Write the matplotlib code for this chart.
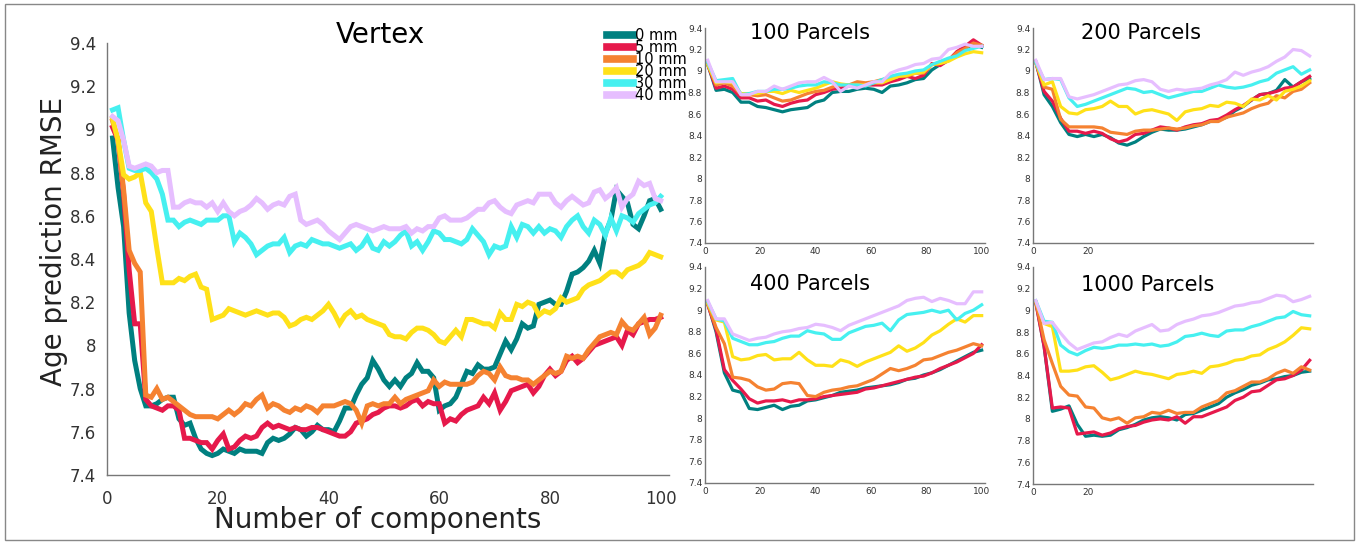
import numpy as np
import matplotlib
matplotlib.use('Agg')
import matplotlib.pyplot as plt
from matplotlib.patches import Rectangle

LABELS = ['0 mm', '5 mm', '10 mm', '20 mm', '30 mm', '40 mm']
COLORS = ['#008080', '#e6194b', '#f58231', '#ffe119', '#46f0f0', '#e6beff']

COMPONENTS = np.arange(1, 101)
SMALL_COMPONENTS = np.arange(1, 101, 3)
YTICKS = [7.4, 7.6, 7.8, 8.0, 8.2, 8.4, 8.6, 8.8, 9.0, 9.2, 9.4]

# vertex-wise smoothing, one list per kernel (0, 5, 10, 20, 30, 40 mm)
VERTEX = [
    [8.96, 8.73, 8.55, 8.15, 7.93, 7.80, 7.72, 7.72, 7.73, 7.75, 7.76, 7.76, 7.66, 7.63, 7.64, 7.57, 7.52, 7.50, 7.49, 7.50,
     7.52, 7.51, 7.50, 7.52, 7.51, 7.51, 7.51, 7.50, 7.55, 7.57, 7.56, 7.57, 7.59, 7.62, 7.61, 7.58, 7.60, 7.63, 7.61, 7.61,
     7.60, 7.65, 7.71, 7.71, 7.77, 7.82, 7.85, 7.93, 7.89, 7.84, 7.81, 7.84, 7.81, 7.85, 7.87, 7.92, 7.88, 7.88, 7.85, 7.70,
     7.72, 7.73, 7.76, 7.82, 7.88, 7.87, 7.91, 7.89, 7.89, 7.90, 7.96, 8.02, 7.98, 8.03, 8.10, 8.08, 8.09, 8.19, 8.20, 8.21,
     8.19, 8.19, 8.25, 8.33, 8.34, 8.36, 8.39, 8.44, 8.38, 8.52, 8.58, 8.72, 8.69, 8.66, 8.56, 8.54, 8.60, 8.67, 8.68, 8.63],
    [9.01, 8.95, 8.70, 8.35, 8.10, 8.10, 7.75, 7.72, 7.71, 7.70, 7.72, 7.72, 7.70, 7.57, 7.57, 7.56, 7.55, 7.55, 7.52, 7.56,
     7.59, 7.52, 7.53, 7.56, 7.58, 7.57, 7.58, 7.62, 7.64, 7.62, 7.63, 7.62, 7.61, 7.62, 7.61, 7.61, 7.62, 7.62, 7.61, 7.60,
     7.59, 7.58, 7.58, 7.60, 7.64, 7.65, 7.66, 7.68, 7.69, 7.71, 7.72, 7.72, 7.71, 7.72, 7.74, 7.75, 7.72, 7.74, 7.73, 7.73,
     7.64, 7.66, 7.65, 7.68, 7.70, 7.71, 7.72, 7.76, 7.73, 7.78, 7.70, 7.74, 7.79, 7.80, 7.81, 7.82, 7.78, 7.81, 7.86, 7.89,
     7.86, 7.88, 7.93, 7.95, 7.92, 7.94, 7.97, 8.00, 8.01, 8.02, 8.03, 8.04, 8.00, 8.07, 8.05, 8.10, 8.11, 8.12, 8.12, 8.13],
    [9.04, 8.95, 8.72, 8.44, 8.38, 8.34, 7.77, 7.76, 7.80, 7.75, 7.76, 7.74, 7.72, 7.70, 7.68, 7.67, 7.67, 7.67, 7.67, 7.66,
     7.68, 7.70, 7.68, 7.70, 7.73, 7.72, 7.75, 7.77, 7.71, 7.73, 7.72, 7.70, 7.69, 7.71, 7.70, 7.72, 7.71, 7.69, 7.72, 7.72,
     7.72, 7.73, 7.74, 7.73, 7.70, 7.64, 7.72, 7.73, 7.72, 7.73, 7.73, 7.76, 7.73, 7.75, 7.76, 7.77, 7.78, 7.79, 7.84, 7.81,
     7.83, 7.82, 7.82, 7.82, 7.82, 7.83, 7.86, 7.88, 7.87, 7.84, 7.90, 7.86, 7.85, 7.85, 7.84, 7.84, 7.82, 7.84, 7.86, 7.88,
     7.87, 7.88, 7.95, 7.94, 7.95, 7.94, 7.98, 8.01, 8.04, 8.05, 8.06, 8.05, 8.11, 8.08, 8.07, 8.10, 8.13, 8.05, 8.08, 8.14],
    [9.05, 8.95, 8.79, 8.77, 8.78, 8.80, 8.66, 8.62, 8.45, 8.29, 8.29, 8.29, 8.31, 8.30, 8.32, 8.33, 8.27, 8.26, 8.12, 8.13,
     8.14, 8.17, 8.16, 8.15, 8.14, 8.15, 8.16, 8.15, 8.14, 8.15, 8.15, 8.13, 8.09, 8.10, 8.12, 8.13, 8.12, 8.14, 8.16, 8.19,
     8.15, 8.10, 8.14, 8.16, 8.13, 8.14, 8.12, 8.11, 8.10, 8.09, 8.05, 8.04, 8.04, 8.03, 8.06, 8.08, 8.08, 8.07, 8.05, 8.02,
     8.01, 8.04, 8.07, 8.04, 8.12, 8.12, 8.11, 8.10, 8.10, 8.08, 8.15, 8.12, 8.12, 8.19, 8.18, 8.20, 8.19, 8.14, 8.16, 8.15,
     8.17, 8.22, 8.20, 8.21, 8.22, 8.26, 8.28, 8.29, 8.30, 8.32, 8.34, 8.34, 8.32, 8.35, 8.36, 8.37, 8.39, 8.43, 8.42, 8.41],
    [9.09, 9.10, 8.95, 8.82, 8.81, 8.81, 8.82, 8.80, 8.77, 8.70, 8.58, 8.58, 8.55, 8.57, 8.58, 8.57, 8.56, 8.58, 8.58, 8.58,
     8.60, 8.60, 8.48, 8.52, 8.50, 8.47, 8.42, 8.44, 8.46, 8.47, 8.47, 8.50, 8.43, 8.46, 8.47, 8.46, 8.49, 8.48, 8.47, 8.47,
     8.46, 8.45, 8.46, 8.47, 8.44, 8.46, 8.50, 8.45, 8.44, 8.48, 8.46, 8.48, 8.51, 8.53, 8.46, 8.48, 8.44, 8.48, 8.53, 8.52,
     8.49, 8.49, 8.48, 8.47, 8.49, 8.54, 8.51, 8.48, 8.42, 8.46, 8.45, 8.46, 8.55, 8.50, 8.56, 8.55, 8.52, 8.55, 8.52, 8.54,
     8.53, 8.50, 8.55, 8.58, 8.60, 8.55, 8.52, 8.58, 8.56, 8.51, 8.59, 8.53, 8.60, 8.59, 8.57, 8.61, 8.63, 8.65, 8.66, 8.69],
    [9.06, 9.04, 8.95, 8.83, 8.82, 8.83, 8.84, 8.83, 8.80, 8.81, 8.81, 8.64, 8.64, 8.66, 8.67, 8.66, 8.66, 8.64, 8.66, 8.62,
     8.66, 8.62, 8.60, 8.62, 8.63, 8.65, 8.68, 8.66, 8.63, 8.65, 8.66, 8.65, 8.69, 8.70, 8.58, 8.56, 8.57, 8.58, 8.56, 8.53,
     8.51, 8.49, 8.52, 8.55, 8.56, 8.55, 8.54, 8.53, 8.54, 8.55, 8.54, 8.54, 8.54, 8.55, 8.52, 8.54, 8.53, 8.55, 8.55, 8.59,
     8.60, 8.58, 8.58, 8.58, 8.59, 8.61, 8.63, 8.63, 8.66, 8.67, 8.64, 8.62, 8.61, 8.65, 8.66, 8.67, 8.66, 8.70, 8.70, 8.70,
     8.66, 8.64, 8.67, 8.69, 8.67, 8.65, 8.66, 8.71, 8.72, 8.68, 8.70, 8.73, 8.64, 8.68, 8.70, 8.76, 8.74, 8.75, 8.68, 8.67],
]

# parcel-wise results, sampled every third component
PARCELS_100 = [
    [9.06, 8.82, 8.83, 8.80, 8.71, 8.71, 8.67, 8.66, 8.64, 8.62, 8.64, 8.65, 8.66, 8.71, 8.73, 8.80, 8.81,
     8.81, 8.83, 8.84, 8.83, 8.80, 8.86, 8.87, 8.89, 8.92, 8.93, 9.01, 9.06, 9.10, 9.16, 9.21, 9.25, 9.22],
    [9.06, 8.84, 8.86, 8.83, 8.75, 8.75, 8.72, 8.73, 8.69, 8.67, 8.70, 8.72, 8.73, 8.78, 8.80, 8.83, 8.84,
     8.86, 8.87, 8.87, 8.87, 8.87, 8.90, 8.92, 8.95, 8.93, 8.96, 9.07, 9.05, 9.10, 9.18, 9.23, 9.29, 9.24],
    [9.06, 8.87, 8.89, 8.86, 8.78, 8.78, 8.77, 8.78, 8.75, 8.72, 8.73, 8.76, 8.79, 8.81, 8.82, 8.85, 8.87,
     8.87, 8.90, 8.89, 8.90, 8.92, 8.93, 8.95, 8.95, 8.98, 8.98, 9.06, 9.07, 9.10, 9.17, 9.21, 9.26, 9.24],
    [9.06, 8.89, 8.90, 8.89, 8.79, 8.79, 8.79, 8.81, 8.81, 8.79, 8.82, 8.80, 8.82, 8.84, 8.87, 8.90, 8.88,
     8.87, 8.87, 8.87, 8.89, 8.89, 8.92, 8.95, 8.96, 8.98, 8.99, 9.06, 9.07, 9.09, 9.13, 9.16, 9.18, 9.17],
    [9.08, 8.91, 8.92, 8.93, 8.78, 8.79, 8.81, 8.81, 8.83, 8.83, 8.84, 8.86, 8.87, 8.87, 8.90, 8.89, 8.87,
     8.87, 8.87, 8.86, 8.89, 8.92, 8.95, 8.97, 8.98, 9.00, 9.01, 9.06, 9.09, 9.12, 9.14, 9.19, 9.21, 9.23],
    [9.10, 8.90, 8.90, 8.90, 8.78, 8.78, 8.81, 8.81, 8.86, 8.83, 8.86, 8.89, 8.90, 8.90, 8.94, 8.90, 8.81,
     8.86, 8.84, 8.87, 8.90, 8.90, 8.98, 9.01, 9.03, 9.06, 9.07, 9.11, 9.12, 9.20, 9.22, 9.25, 9.23, 9.23],
]
PARCELS_200 = [
    [9.09, 8.78, 8.67, 8.52, 8.41, 8.39, 8.41, 8.39, 8.41, 8.38, 8.33, 8.31, 8.34, 8.39, 8.43, 8.46, 8.45,
     8.45, 8.46, 8.48, 8.50, 8.53, 8.54, 8.57, 8.63, 8.67, 8.73, 8.78, 8.79, 8.82, 8.92, 8.85, 8.90, 8.93],
    [9.08, 8.81, 8.72, 8.56, 8.44, 8.44, 8.42, 8.44, 8.42, 8.37, 8.34, 8.36, 8.41, 8.42, 8.45, 8.48, 8.47,
     8.45, 8.48, 8.50, 8.51, 8.54, 8.55, 8.59, 8.64, 8.68, 8.73, 8.78, 8.79, 8.81, 8.84, 8.85, 8.90, 8.95],
    [9.08, 8.85, 8.83, 8.55, 8.48, 8.48, 8.48, 8.48, 8.47, 8.43, 8.42, 8.41, 8.44, 8.45, 8.45, 8.46, 8.47,
     8.46, 8.47, 8.49, 8.50, 8.53, 8.53, 8.57, 8.59, 8.61, 8.65, 8.68, 8.70, 8.77, 8.75, 8.81, 8.83, 8.89],
    [9.08, 8.87, 8.90, 8.67, 8.61, 8.60, 8.64, 8.65, 8.67, 8.72, 8.67, 8.67, 8.60, 8.63, 8.64, 8.62, 8.60,
     8.54, 8.62, 8.64, 8.65, 8.68, 8.67, 8.71, 8.70, 8.67, 8.74, 8.73, 8.77, 8.73, 8.81, 8.83, 8.86, 8.91],
    [9.08, 8.92, 8.93, 8.92, 8.75, 8.67, 8.69, 8.72, 8.75, 8.78, 8.81, 8.84, 8.83, 8.80, 8.81, 8.78, 8.75,
     8.77, 8.79, 8.81, 8.81, 8.84, 8.87, 8.85, 8.84, 8.85, 8.87, 8.90, 8.92, 8.98, 9.01, 9.04, 8.97, 9.01],
    [9.10, 8.92, 8.93, 8.93, 8.76, 8.74, 8.76, 8.78, 8.81, 8.84, 8.87, 8.88, 8.91, 8.92, 8.90, 8.83, 8.81,
     8.83, 8.82, 8.83, 8.84, 8.87, 8.89, 8.92, 8.99, 8.96, 8.99, 9.01, 9.04, 9.09, 9.13, 9.20, 9.19, 9.14],
]
PARCELS_400 = [
    [9.06, 8.80, 8.42, 8.26, 8.24, 8.09, 8.08, 8.10, 8.12, 8.08, 8.11, 8.12, 8.16, 8.17, 8.19, 8.21, 8.24,
     8.25, 8.26, 8.28, 8.29, 8.30, 8.31, 8.33, 8.36, 8.37, 8.40, 8.42, 8.45, 8.49, 8.53, 8.57, 8.61, 8.63],
    [9.05, 8.82, 8.45, 8.35, 8.27, 8.18, 8.14, 8.16, 8.16, 8.17, 8.15, 8.17, 8.17, 8.18, 8.20, 8.21, 8.22,
     8.23, 8.24, 8.27, 8.28, 8.30, 8.32, 8.34, 8.36, 8.38, 8.39, 8.42, 8.46, 8.49, 8.52, 8.56, 8.60, 8.68],
    [9.06, 8.84, 8.69, 8.38, 8.37, 8.35, 8.29, 8.26, 8.27, 8.32, 8.33, 8.32, 8.21, 8.20, 8.24, 8.26, 8.27,
     8.29, 8.30, 8.33, 8.36, 8.41, 8.46, 8.44, 8.46, 8.49, 8.54, 8.55, 8.58, 8.61, 8.63, 8.66, 8.69, 8.67],
    [9.06, 8.91, 8.89, 8.57, 8.54, 8.55, 8.58, 8.59, 8.54, 8.55, 8.55, 8.61, 8.54, 8.49, 8.49, 8.48, 8.54,
     8.52, 8.48, 8.52, 8.55, 8.58, 8.61, 8.67, 8.62, 8.65, 8.70, 8.77, 8.81, 8.87, 8.92, 8.89, 8.95, 8.95],
    [9.08, 8.92, 8.90, 8.74, 8.71, 8.68, 8.68, 8.70, 8.71, 8.74, 8.76, 8.76, 8.81, 8.79, 8.78, 8.73, 8.73,
     8.79, 8.82, 8.85, 8.86, 8.88, 8.81, 8.91, 8.96, 8.97, 8.98, 9.00, 8.98, 9.00, 8.91, 8.97, 9.00, 9.05],
    [9.09, 8.92, 8.92, 8.78, 8.75, 8.72, 8.74, 8.75, 8.78, 8.80, 8.81, 8.83, 8.84, 8.87, 8.86, 8.84, 8.81,
     8.86, 8.89, 8.92, 8.95, 8.98, 9.01, 9.04, 9.09, 9.11, 9.12, 9.08, 9.11, 9.09, 9.06, 9.06, 9.17, 9.17],
]
PARCELS_1000 = [
    [9.08, 8.67, 8.07, 8.09, 8.12, 7.95, 7.84, 7.85, 7.84, 7.85, 7.90, 7.92, 7.95, 7.99, 8.01, 8.02, 8.01,
     7.99, 8.04, 8.05, 8.08, 8.11, 8.14, 8.20, 8.24, 8.27, 8.31, 8.33, 8.36, 8.37, 8.39, 8.40, 8.43, 8.44],
    [9.07, 8.67, 8.10, 8.11, 8.10, 7.86, 7.87, 7.88, 7.85, 7.87, 7.91, 7.93, 7.94, 7.97, 7.99, 8.00, 7.99,
     8.02, 7.96, 8.02, 8.02, 8.05, 8.08, 8.11, 8.17, 8.20, 8.25, 8.26, 8.31, 8.36, 8.37, 8.40, 8.45, 8.54],
    [9.08, 8.73, 8.51, 8.30, 8.22, 8.21, 8.11, 8.10, 8.01, 7.99, 8.01, 7.96, 8.01, 8.02, 8.06, 8.05, 8.08,
     8.05, 8.06, 8.06, 8.11, 8.14, 8.17, 8.24, 8.26, 8.30, 8.34, 8.34, 8.37, 8.42, 8.45, 8.42, 8.48, 8.45],
    [9.08, 8.88, 8.85, 8.44, 8.44, 8.45, 8.48, 8.49, 8.43, 8.36, 8.38, 8.41, 8.44, 8.42, 8.41, 8.39, 8.37,
     8.41, 8.42, 8.44, 8.42, 8.48, 8.49, 8.51, 8.54, 8.55, 8.58, 8.59, 8.64, 8.67, 8.71, 8.77, 8.84, 8.83],
    [9.09, 8.90, 8.89, 8.68, 8.62, 8.59, 8.63, 8.66, 8.65, 8.66, 8.68, 8.68, 8.69, 8.68, 8.69, 8.67, 8.68,
     8.71, 8.76, 8.77, 8.79, 8.77, 8.76, 8.81, 8.82, 8.82, 8.85, 8.87, 8.90, 8.93, 8.94, 8.99, 8.96, 8.95],
    [9.09, 8.88, 8.89, 8.79, 8.70, 8.64, 8.67, 8.70, 8.71, 8.75, 8.78, 8.76, 8.81, 8.84, 8.87, 8.81, 8.82,
     8.87, 8.90, 8.92, 8.95, 8.96, 8.98, 9.01, 9.04, 9.05, 9.07, 9.08, 9.11, 9.14, 9.13, 9.08, 9.10, 9.13],
]

W, H = 1359, 542


def px_rect(x0, y0, x1, y1):
    # pixel box (top-left origin) -> figure fraction rect
    return [x0 / W, 1 - y1 / H, (x1 - x0) / W, (y1 - y0) / H]


def style_axes(ax, xmax, xticks, ysize, xsize, ypad, xpad):
    for side in ['top', 'right']:
        ax.spines[side].set_visible(False)
    for side in ['left', 'bottom']:
        ax.spines[side].set_color('#777777')
        ax.spines[side].set_linewidth(1.0)
    ax.set_xlim(0, xmax)
    ax.set_ylim(7.4, 9.4)
    ax.set_yticks(YTICKS)
    ax.set_yticklabels(['%g' % t for t in YTICKS])
    ax.set_xticks(xticks)
    ax.set_xticklabels(['%g' % t for t in xticks])
    ax.tick_params(axis='y', length=0, pad=ypad, labelsize=ysize, labelcolor='#333333')
    ax.tick_params(axis='x', length=0, pad=xpad, labelsize=xsize, labelcolor='#333333')


fig = plt.figure(figsize=(W / 100, H / 100), dpi=100)

# main vertex panel
ax = fig.add_axes(px_rect(107, 43, 669, 475))
for vals, col, lab in zip(VERTEX, COLORS, LABELS):
    ax.plot(COMPONENTS, vals, color=col, lw=3.6, label=lab, solid_joinstyle='miter')
style_axes(ax, 101.5, [0, 20, 40, 60, 80, 100], 12, 12, 8, 11)
ax.set_ylabel('Age prediction RMSE', fontsize=20, color='#222222')
ax.yaxis.set_label_coords(-0.069, 0.54)
ax.set_xlabel('Number of components', fontsize=20, color='#222222')
ax.xaxis.set_label_coords(0.482, -0.072)
fig.text(380 / W, 1 - 35 / H, 'Vertex', fontsize=20, ha='center', va='center')

leg = fig.legend(loc='upper left', bbox_to_anchor=(607 / W, 1 - 28 / H), frameon=False,
                 fontsize=10.5, handlelength=1.8, handletextpad=0.15, labelspacing=-0.2,
                 borderpad=0, borderaxespad=0)
for h in leg.get_lines():
    h.set_linewidth(5.5)

# parcel panels
panels = [
    (PARCELS_100, (705, 28, 985, 243), [0, 20, 40, 60, 80, 100], '100 Parcels', (750, 33)),
    (PARCELS_200, (1033, 28, 1313, 243), [0, 20], '200 Parcels', (1081, 33)),
    (PARCELS_400, (705, 267, 985, 483), [0, 20, 40, 60, 80, 100], '400 Parcels', (750, 284)),
    (PARCELS_1000, (1033, 267, 1313, 484), [0, 20], '1000 Parcels', (1081, 285)),
]
for data, box, xt, title, tpos in panels:
    pax = fig.add_axes(px_rect(*box))
    for vals, col in zip(data, COLORS):
        pax.plot(SMALL_COMPONENTS, vals, color=col, lw=2.3)
    style_axes(pax, 101.2, xt, 6.5, 6.5, 2, 3)
    fig.text(tpos[0] / W, 1 - tpos[1] / H, title, fontsize=15, ha='left', va='center')

# thin frame around the whole figure
fig.patches.append(Rectangle((0.004, 0.004), 0.992, 0.989, transform=fig.transFigure,
                             fill=False, edgecolor='#888888', linewidth=1.0))

fig.savefig('out.png', dpi=100)
